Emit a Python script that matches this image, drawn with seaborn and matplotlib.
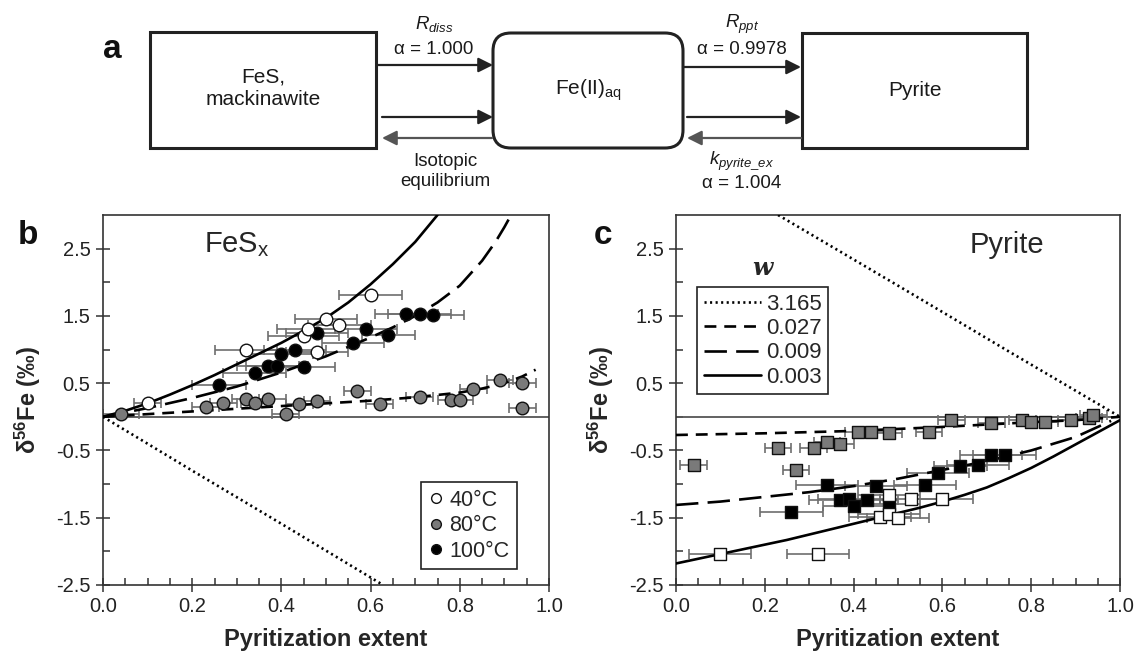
import numpy as np
import pandas as pd
import matplotlib
matplotlib.use("Agg")
import matplotlib.pyplot as plt
import seaborn as sns
from matplotlib.patches import Rectangle, FancyBboxPatch
from matplotlib.lines import Line2D
from matplotlib.ticker import MultipleLocator, FixedLocator

# ---------------- data ----------------
x_ticks = [0.0, 0.2, 0.4, 0.6, 0.8, 1.0]
x_tick_labels = ["0.0", "0.2", "0.4", "0.6", "0.8", "1.0"]
y_ticks = [2.5, 1.5, 0.5, -0.5, -1.5, -2.5]
y_tick_labels = ["2.5", "1.5", "0.5", "-0.5", "-1.5", "-2.5"]
y_minor = [2.0, 1.0, 0.0, -1.0, -2.0]

temps = ["40°C", "80°C", "100°C"]
w_labels = ["3.165", "0.027", "0.009", "0.003"]

# Panel b (FeSx) measurements
b40_x = [0.10, 0.32, 0.45, 0.46, 0.48, 0.50, 0.53, 0.60]
b40_y = [0.20, 1.00, 1.20, 1.30, 0.97, 1.46, 1.36, 1.81]
b40_xerr = [0.03, 0.07, 0.08, 0.07, 0.07, 0.07, 0.07, 0.07]

b80_x = [0.04, 0.23, 0.27, 0.32, 0.34, 0.37, 0.41, 0.44, 0.48, 0.57, 0.62, 0.71, 0.78, 0.80, 0.83, 0.89, 0.94, 0.94]
b80_y = [0.04, 0.14, 0.21, 0.26, 0.20, 0.26, 0.04, 0.19, 0.24, 0.39, 0.19, 0.30, 0.25, 0.25, 0.41, 0.54, 0.50, 0.13]
b80_xerr = [0.04, 0.03, 0.03, 0.03, 0.03, 0.04, 0.03, 0.03, 0.03, 0.03, 0.03, 0.03, 0.03, 0.03, 0.03, 0.03, 0.03, 0.03]

b100_x = [0.26, 0.34, 0.37, 0.39, 0.40, 0.43, 0.45, 0.48, 0.56, 0.59, 0.64, 0.68, 0.71, 0.74]
b100_y = [0.48, 0.65, 0.75, 0.76, 0.94, 0.99, 0.74, 1.25, 1.10, 1.30, 1.21, 1.53, 1.53, 1.51]
b100_xerr = [0.06, 0.07, 0.07, 0.07, 0.07, 0.07, 0.07, 0.07, 0.07, 0.07, 0.06, 0.07, 0.07, 0.07]

# Panel b model curves
b_dot_x = [0.0, 0.2, 0.4, 0.628]
b_dot_y = [0.0, -0.80, -1.59, -2.5]
b_sd_x = [0.0, 0.1, 0.2, 0.3, 0.4, 0.5, 0.6, 0.7, 0.8, 0.85, 0.9, 0.94, 0.97]
b_sd_y = [0.0, 0.04, 0.08, 0.12, 0.16, 0.20, 0.24, 0.29, 0.36, 0.42, 0.50, 0.60, 0.70]
b_ld_x = [0.0, 0.1, 0.2, 0.3, 0.4, 0.5, 0.6, 0.65, 0.7, 0.75, 0.8, 0.85, 0.88, 0.9, 0.915]
b_ld_y = [0.0, 0.13, 0.28, 0.45, 0.66, 0.90, 1.18, 1.33, 1.50, 1.70, 1.95, 2.32, 2.60, 2.82, 3.0]
b_sol_x = [0.0, 0.05, 0.1, 0.15, 0.2, 0.25, 0.3, 0.35, 0.4, 0.45, 0.5, 0.55, 0.6, 0.65, 0.7, 0.75]
b_sol_y = [0.0, 0.09, 0.20, 0.33, 0.47, 0.62, 0.78, 0.94, 1.10, 1.28, 1.47, 1.70, 1.97, 2.27, 2.60, 3.0]

# Panel c (pyrite) measurements
c40_x = [0.10, 0.32, 0.46, 0.48, 0.50, 0.48, 0.53, 0.60]
c40_y = [-2.04, -2.04, -1.49, -1.45, -1.50, -1.16, -1.22, -1.22]
c40_xerr = [0.07, 0.07, 0.07, 0.07, 0.07, 0.07, 0.07, 0.07]

c80_x = [0.04, 0.23, 0.27, 0.31, 0.34, 0.37, 0.41, 0.44, 0.48, 0.57, 0.62, 0.71, 0.78, 0.80, 0.83, 0.89, 0.93, 0.94]
c80_y = [-0.72, -0.47, -0.79, -0.47, -0.37, -0.40, -0.22, -0.23, -0.24, -0.22, -0.04, -0.09, -0.05, -0.08, -0.08, -0.05, -0.02, 0.03]
c80_xerr = [0.03, 0.03, 0.03, 0.03, 0.03, 0.03, 0.03, 0.03, 0.03, 0.03, 0.03, 0.03, 0.03, 0.03, 0.03, 0.03, 0.03, 0.03]

c100_x = [0.26, 0.34, 0.37, 0.39, 0.40, 0.43, 0.45, 0.48, 0.56, 0.59, 0.64, 0.68, 0.71, 0.74]
c100_y = [-1.42, -1.01, -1.24, -1.22, -1.33, -1.24, -1.03, -1.30, -1.01, -0.83, -0.73, -0.71, -0.57, -0.57]
c100_xerr = [0.07, 0.07, 0.07, 0.07, 0.07, 0.07, 0.07, 0.07, 0.07, 0.07, 0.06, 0.07, 0.07, 0.07]

# Panel c model curves
c_dot_x = [0.23, 0.5, 0.75, 1.0]
c_dot_y = [3.0, 1.95, 0.97, 0.0]
c_sd_x = [0.0, 0.2, 0.4, 0.6, 0.8, 0.9, 1.0]
c_sd_y = [-0.27, -0.245, -0.21, -0.15, -0.08, -0.05, 0.0]
c_ld_x = [0.0, 0.1, 0.2, 0.3, 0.4, 0.5, 0.6, 0.7, 0.8, 0.9, 0.95, 0.98]
c_ld_y = [-1.31, -1.26, -1.19, -1.12, -1.03, -0.92, -0.79, -0.66, -0.50, -0.30, -0.15, -0.06]
c_sol_x = [0.0, 0.05, 0.1, 0.15, 0.2, 0.25, 0.3, 0.35, 0.4, 0.45, 0.5, 0.55, 0.6, 0.65, 0.7, 0.75, 0.8, 0.85, 0.9, 0.95, 1.0]
c_sol_y = [-2.18, -2.11, -2.04, -1.97, -1.90, -1.83, -1.75, -1.67, -1.59, -1.51, -1.43, -1.35, -1.26, -1.16, -1.05, -0.91, -0.76, -0.59, -0.41, -0.23, -0.05]

# ---------------- style ----------------
sns.set_theme(style="ticks")
plt.rcParams["font.family"] = ["Liberation Sans", "DejaVu Sans"]
plt.rcParams["mathtext.fontset"] = "custom"
plt.rcParams["mathtext.rm"] = "Liberation Sans"
plt.rcParams["mathtext.it"] = "Liberation Sans:italic"
plt.rcParams["mathtext.bf"] = "Liberation Sans:bold"
plt.rcParams["axes.unicode_minus"] = False

FIG_W, FIG_H = 1137, 661
fig = plt.figure(figsize=(FIG_W / 100, FIG_H / 100), dpi=100)

def px_axes(l, t, r, b):
    return fig.add_axes([l / FIG_W, 1 - b / FIG_H, (r - l) / FIG_W, (b - t) / FIG_H])

axb = px_axes(103, 215, 549, 585)
axc = px_axes(676, 215, 1120, 585)

GRAY = "#7a7a7a"
ECOL = "#6e6e6e"
LW = 1.9
DOT = (0, (0.8, 1.3))
SDASH = (0, (4.5, 3.0))
LDASH = (0, (8.5, 3.5))

def style(ax):
    ax.set_xlim(0, 1)
    ax.set_ylim(-2.5, 3.0)
    ax.set_xticks(x_ticks)
    ax.set_xticklabels(x_tick_labels)
    ax.set_yticks(y_ticks)
    ax.set_yticklabels(y_tick_labels)
    ax.xaxis.set_minor_locator(MultipleLocator(0.05))
    ax.yaxis.set_minor_locator(FixedLocator(y_minor))
    ax.tick_params(which="major", direction="inout", length=10, width=1.1,
                   labelsize=14.5, color="#333333", labelcolor="#222222", pad=4)
    ax.tick_params(which="minor", direction="in", length=5, width=1.1, color="#333333")
    for s in ax.spines.values():
        s.set_linewidth(1.2)
        s.set_color("#333333")
    ax.axhline(0, color="#555555", lw=1.3, zorder=1)
    ax.set_xlabel("Pyritization extent", fontsize=17, fontweight="bold", labelpad=8)
    ax.set_ylabel(r"δ$^{\mathbf{56}}$Fe (‰)", fontsize=17, fontweight="bold")
    ax.yaxis.set_label_coords(-0.135, 0.5)

def curve(ax, x, y, ls):
    sns.lineplot(x=x, y=y, ax=ax, color="black", lw=LW, linestyle=ls, zorder=3)

def points(ax, x, y, xerr, marker, face, size):
    ax.errorbar(x, y, xerr=xerr, fmt="none", ecolor=ECOL, elinewidth=1.2,
                capsize=3.5, capthick=1.2, zorder=2)
    sns.scatterplot(x=x, y=y, ax=ax, marker=marker, s=size, color=face,
                    edgecolor="#111111", linewidth=1.0, zorder=4, legend=False)

for ax in (axb, axc):
    style(ax)

# Panel b
curve(axb, b_dot_x, b_dot_y, DOT)
curve(axb, b_sd_x, b_sd_y, SDASH)
curve(axb, b_ld_x, b_ld_y, LDASH)
curve(axb, b_sol_x, b_sol_y, "-")
points(axb, b80_x, b80_y, b80_xerr, "o", GRAY, 82)
points(axb, b100_x, b100_y, b100_xerr, "o", "black", 82)
points(axb, b40_x, b40_y, b40_xerr, "o", "white", 82)
axb.text(0.30, 0.92, r"FeS$_\mathrm{x}$", transform=axb.transAxes, fontsize=21,
         ha="center", va="center")

hb = [Line2D([], [], marker="o", ls="none", ms=7, mfc=c, mec="#111111", mew=1.0)
      for c in ("white", GRAY, "black")]
legb = axb.legend(hb, temps, loc="lower right", bbox_to_anchor=(0.928, 0.043),
                  borderaxespad=0, fontsize=15.5, frameon=True, fancybox=False,
                  edgecolor="#222222", framealpha=1, handlelength=0.7,
                  handletextpad=0.25, borderpad=0.35, labelspacing=0.2)
legb.get_frame().set_linewidth(1.2)

# Panel c
curve(axc, c_dot_x, c_dot_y, DOT)
curve(axc, c_sd_x, c_sd_y, SDASH)
curve(axc, c_ld_x, c_ld_y, LDASH)
curve(axc, c_sol_x, c_sol_y, "-")
points(axc, c80_x, c80_y, c80_xerr, "s", GRAY, 72)
points(axc, c100_x, c100_y, c100_xerr, "s", "black", 72)
points(axc, c40_x, c40_y, c40_xerr, "s", "white", 72)
axc.text(0.745, 0.92, "Pyrite", transform=axc.transAxes, fontsize=21,
         ha="center", va="center")

hc = [Line2D([], [], color="black", lw=LW, linestyle=ls) for ls in (DOT, SDASH, LDASH, "-")]
legc = axc.legend(hc, w_labels, loc="upper left", bbox_to_anchor=(0.047, 0.805),
                  borderaxespad=0, fontsize=16, frameon=True, fancybox=False,
                  edgecolor="#222222", framealpha=1, handlelength=2.6,
                  handletextpad=0.2, borderpad=0.3, labelspacing=0.15)
legc.get_frame().set_linewidth(1.2)
axc.text(0.194, 0.857, "w", transform=axc.transAxes, fontsize=17,
         family="DejaVu Serif", fontweight="bold", style="italic",
         ha="center", va="center")

# ---------------- panel a diagram (pixel coordinates) ----------------
axd = fig.add_axes([0, 0, 1, 1], zorder=-1)
axd.set_xlim(0, FIG_W)
axd.set_ylim(FIG_H, 0)
axd.axis("off")
axd.patch.set_alpha(0)

axd.add_patch(Rectangle((150, 32), 226, 116, fill=False, lw=2.2, ec="#222222"))
axd.add_patch(FancyBboxPatch((493, 33), 190, 115, boxstyle="round,pad=0,rounding_size=18",
                             fill=False, lw=2.2, ec="#222222"))
axd.add_patch(Rectangle((802, 33), 225, 115, fill=False, lw=2.2, ec="#222222"))

def arrow(x0, x1, y, col="#222222"):
    axd.annotate("", xy=(x1, y), xytext=(x0, y),
                 arrowprops=dict(arrowstyle="-|>", lw=1.6, color=col,
                                 mutation_scale=22, shrinkA=0, shrinkB=0))

arrow(377, 493, 65)
arrow(382, 493, 117)
arrow(492, 382, 138, "#555555")
arrow(683, 801, 67)
arrow(687, 801, 117)
arrow(801, 687, 138, "#555555")

tk = dict(ha="center", va="center", fontsize=15, color="#1a1a1a")
axd.text(263, 88, "FeS,\nmackinawite", linespacing=1.25, **tk)
axd.text(588, 90, r"Fe(II)$_\mathrm{aq}$", **tk)
axd.text(915, 90, "Pyrite", **tk)

sk = dict(ha="center", va="center", fontsize=13.5, color="#1a1a1a")
axd.text(434, 24, r"$R_{diss}$", **sk)
axd.text(434, 49, "α = 1.000", **sk)
axd.text(742, 24, r"$R_{ppt}$", **sk)
axd.text(742, 49, "α = 0.9978", **sk)
axd.text(445, 161, "Isotopic", **sk)
axd.text(445, 182, "equilibrium", **sk)
axd.text(742, 161, r"$k_{pyrite\_ex}$", **sk)
axd.text(742, 183, "α = 1.004", **sk)

lk = dict(ha="center", va="center", fontsize=24, fontweight="bold", color="#111111")
axd.text(112, 50, "a", **lk)
axd.text(28, 235, "b", **lk)
axd.text(603, 235, "c", **lk)

fig.savefig("out.png", dpi=100)
